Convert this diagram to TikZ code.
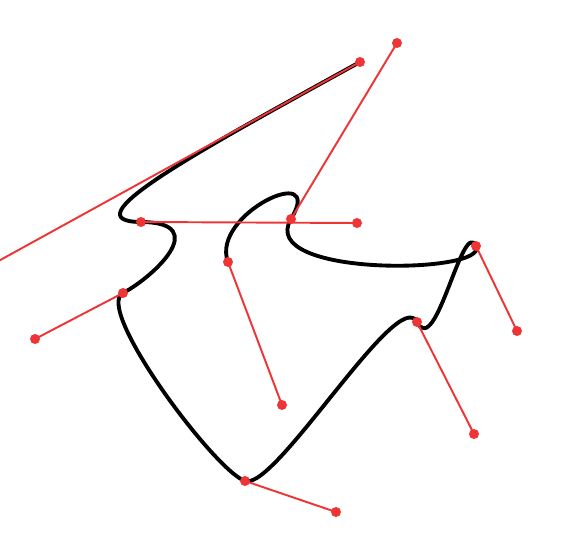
\documentclass[tikz,border=0pt]{standalone}
\usepackage{tikz}
\usetikzlibrary{calc}
\definecolor{handred}{RGB}{238,52,52}

\begin{document}
\begin{tikzpicture}[x=0.02cm,y=-0.02cm,
curve/.style={line width=2.2pt,black,line cap=round,line join=round},
handle/.style={line width=1.1pt,handred},
knot/.style={circle,fill=handred,inner sep=0pt,minimum size=0.2cm}]
\useasboundingbox (0,0) rectangle (569,551);
\clip (0,0) rectangle (569,551);
% knots and tangent ends
\coordinate (p0) at (360,62);  \coordinate (h0) at (-145,340);
\coordinate (p1) at (141,222); \coordinate (h1) at (357,223);
\coordinate (p2) at (123,293); \coordinate (h2) at (35,339);
\coordinate (p3) at (245,481); \coordinate (h3) at (336,512);
\coordinate (p4) at (417,322); \coordinate (h4) at (474,434);
\coordinate (p5) at (476,246); \coordinate (h5) at (517,331);
\coordinate (p6) at (291,219); \coordinate (h6) at (397,43);
\coordinate (p7) at (228,262); \coordinate (h7) at (282,405);
% the spline
\draw[curve] (p0)
  .. controls ($(p0)!1/3!(h0)$) and ($(p1)!-1/3!(h1)$) .. (p1)
  .. controls ($(p1)!1/3!(h1)$) and ($(p2)!-1/3!(h2)$) .. (p2)
  .. controls ($(p2)!1/3!(h2)$) and ($(p3)!-1/3!(h3)$) .. (p3)
  .. controls ($(p3)!1/3!(h3)$) and ($(p4)!-1/3!(h4)$) .. (p4)
  .. controls ($(p4)!1/3!(h4)$) and ($(p5)!-1/3!(h5)$) .. (p5)
  .. controls ($(p5)!1/3!(h5)$) and ($(p6)!-1/3!(h6)$) .. (p6)
  .. controls ($(p6)!1/3!(h6)$) and ($(p7)!-1/3!(h7)$) .. (p7);
% tangents
\foreach \i in {0,...,7}{
  \draw[handle] (p\i) -- (h\i);
  \node[knot] at (p\i) {};
  \node[knot] at (h\i) {};
}
\end{tikzpicture}
\end{document}
